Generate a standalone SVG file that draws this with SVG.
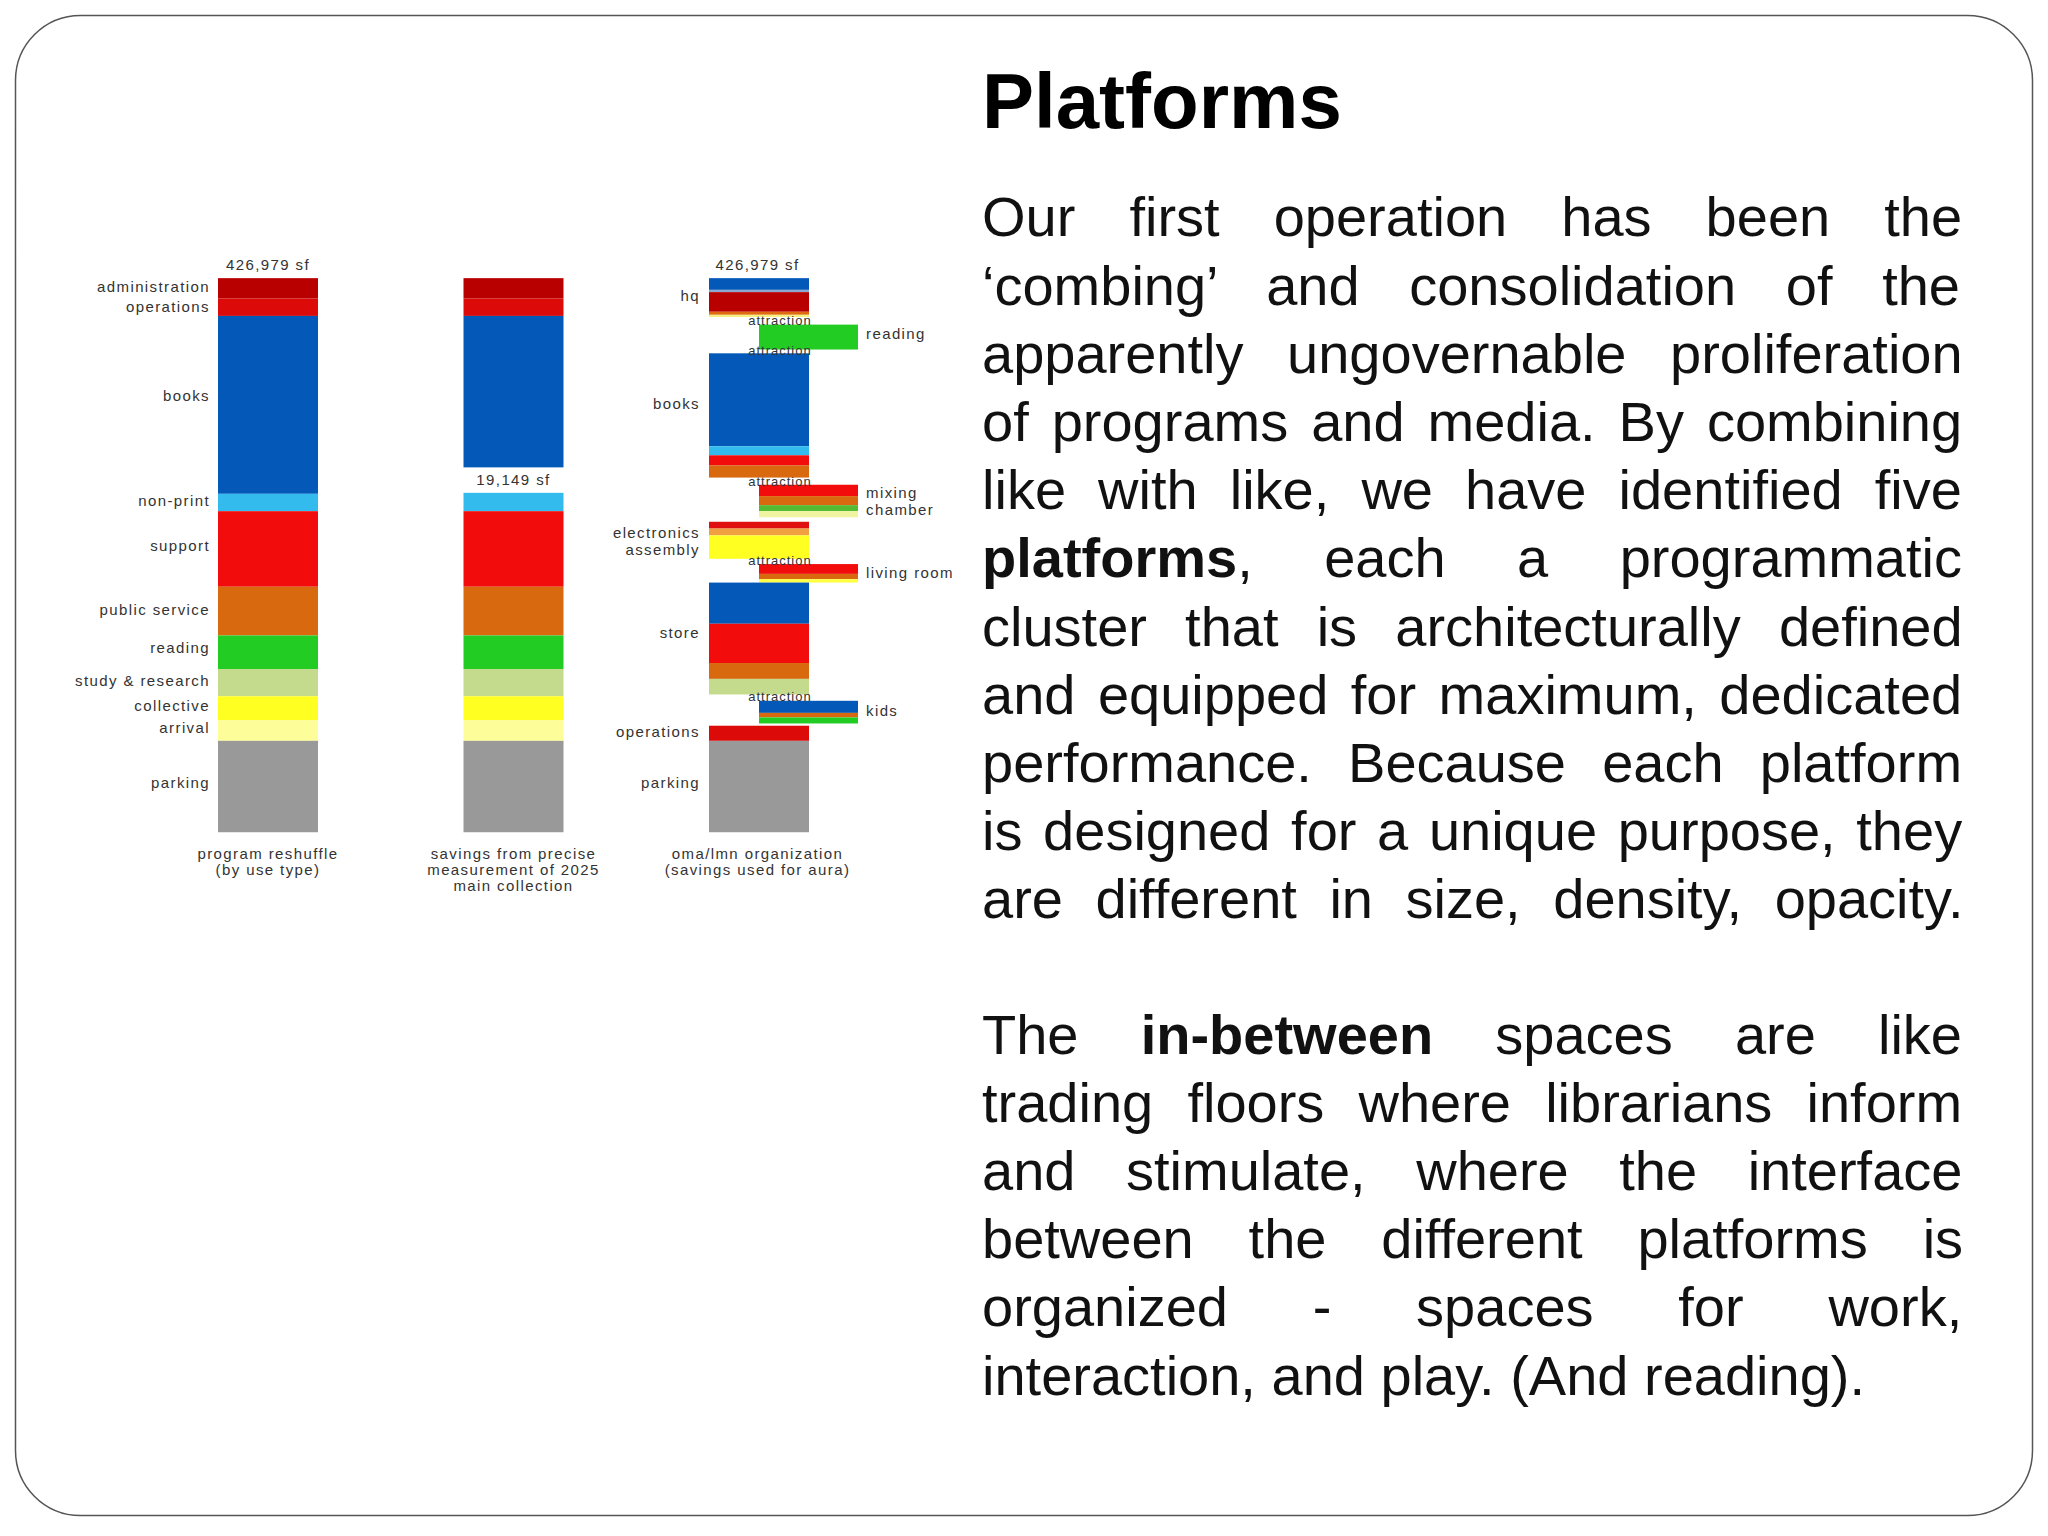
<svg xmlns="http://www.w3.org/2000/svg" width="2048" height="1536" viewBox="0 0 2048 1536">
<style>
.lb{font-family:"Liberation Sans",Arial,sans-serif;font-size:15px;letter-spacing:1.4px;fill:#333}
.r{text-anchor:end}
.m{text-anchor:middle}
.at{font-family:"Liberation Sans",Arial,sans-serif;font-size:13px;letter-spacing:1px;fill:#333;text-anchor:middle}
.body{font-family:"Liberation Sans",Arial,sans-serif;font-size:56px;fill:#111}
.b{font-weight:bold}
</style>
<rect width="2048" height="1536" fill="#fff"/>
<rect x="15.5" y="15.5" width="2017" height="1500" rx="65" fill="#fff" stroke="#555" stroke-width="1.5"/>
<g id="chart1">
<g transform="translate(0,240) scale(1,0.7554) translate(0,-240)">
<rect x="218" y="290.5" width="100" height="27" fill="#b80000"/>
<rect x="218" y="317.5" width="100" height="23" fill="#dd0a0a"/>
<rect x="218" y="340.5" width="100" height="235.5" fill="#0459b8"/>
<rect x="218" y="576" width="100" height="23" fill="#33bbee"/>
<rect x="218" y="599" width="100" height="100" fill="#f20c0c"/>
<rect x="218" y="699" width="100" height="64.5" fill="#d9690f"/>
<rect x="218" y="763.5" width="100" height="44.5" fill="#22cc22"/>
<rect x="218" y="808" width="100" height="36" fill="#c4da8c"/>
<rect x="218" y="844" width="100" height="32" fill="#ffff22"/>
<rect x="218" y="876" width="100" height="27" fill="#fdfd9a"/>
<rect x="218" y="903" width="100" height="121" fill="#999"/>
</g>
<text class="lb m" x="268" y="269.5">426,979 sf</text>
<text class="lb r" x="210" y="292">administration</text>
<text class="lb r" x="210" y="312">operations</text>
<text class="lb r" x="210" y="401">books</text>
<text class="lb r" x="210" y="506">non-print</text>
<text class="lb r" x="210" y="551">support</text>
<text class="lb r" x="210" y="615">public service</text>
<text class="lb r" x="210" y="653">reading</text>
<text class="lb r" x="210" y="686">study &amp; research</text>
<text class="lb r" x="210" y="711">collective</text>
<text class="lb r" x="210" y="732.5">arrival</text>
<text class="lb r" x="210" y="788">parking</text>
<text class="lb m" x="268" y="859">program reshuffle</text>
<text class="lb m" x="268" y="875">(by use type)</text>
</g>
<g id="chart2">
<g transform="translate(0,240) scale(1,0.7554) translate(0,-240)">
<rect x="463.5" y="290.5" width="100" height="27" fill="#b80000"/>
<rect x="463.5" y="317.5" width="100" height="23" fill="#dd0a0a"/>
<rect x="463.5" y="340.5" width="100" height="200.5" fill="#0459b8"/>
<rect x="463.5" y="574.7" width="100" height="24.3" fill="#33bbee"/>
<rect x="463.5" y="599" width="100" height="100" fill="#f20c0c"/>
<rect x="463.5" y="699" width="100" height="64.5" fill="#d9690f"/>
<rect x="463.5" y="763.5" width="100" height="44.5" fill="#22cc22"/>
<rect x="463.5" y="808" width="100" height="36" fill="#c4da8c"/>
<rect x="463.5" y="844" width="100" height="32" fill="#ffff22"/>
<rect x="463.5" y="876" width="100" height="27" fill="#fdfd9a"/>
<rect x="463.5" y="903" width="100" height="121" fill="#999"/>
</g>
<text class="lb m" x="513.5" y="484.5">19,149 sf</text>
<text class="lb m" x="513.5" y="859">savings from precise</text>
<text class="lb m" x="513.5" y="875">measurement of 2025</text>
<text class="lb m" x="513.5" y="891">main collection</text>
</g>
<g id="chart3">
<g transform="translate(0,240) scale(1,0.7554) translate(0,-240)">
<rect x="709" y="290.5" width="100" height="15.5" fill="#0459b8"/>
<rect x="709" y="306" width="100" height="3" fill="#8aa8d0"/>
<rect x="709" y="309" width="100" height="26" fill="#b80000"/>
<rect x="709" y="335" width="100" height="4" fill="#e06a10"/>
<rect x="709" y="339" width="100" height="3" fill="#f6f080"/>
<rect x="759" y="352" width="99" height="33" fill="#22cc22"/>
<rect x="709" y="390" width="100" height="123" fill="#0459b8"/>
<rect x="709" y="513" width="100" height="12" fill="#33bbee"/>
<rect x="709" y="525" width="100" height="13.5" fill="#f20c0c"/>
<rect x="709" y="538.5" width="100" height="16" fill="#d9690f"/>
<rect x="759" y="564" width="99" height="15" fill="#f20c0c"/>
<rect x="759" y="579" width="99" height="12" fill="#d9690f"/>
<rect x="759" y="591" width="99" height="8" fill="#55bb33"/>
<rect x="759" y="599" width="99" height="8" fill="#f0f4a0"/>
<rect x="709" y="613" width="100" height="9" fill="#e01010"/>
<rect x="709" y="622" width="100" height="9" fill="#f0a040"/>
<rect x="709" y="631" width="100" height="31" fill="#ffff22"/>
<rect x="759" y="669" width="99" height="13" fill="#f20c0c"/>
<rect x="759" y="682" width="99" height="7" fill="#d9690f"/>
<rect x="759" y="689" width="99" height="4.5" fill="#ffff44"/>
<rect x="709" y="693.5" width="100" height="54.5" fill="#0459b8"/>
<rect x="709" y="748" width="100" height="52" fill="#f20c0c"/>
<rect x="709" y="800" width="100" height="21" fill="#d9690f"/>
<rect x="709" y="821" width="100" height="20.6" fill="#c4da8c"/>
<rect x="759" y="850" width="99" height="16" fill="#0459b8"/>
<rect x="759" y="866" width="99" height="6" fill="#d9690f"/>
<rect x="759" y="872" width="99" height="8" fill="#22cc22"/>
<rect x="709" y="883" width="100" height="20" fill="#dd0a0a"/>
<rect x="709" y="903" width="100" height="121" fill="#999"/>
</g>
<text class="lb m" x="757.5" y="269.5">426,979 sf</text>
<text class="at" x="780" y="325">attraction</text>
<text class="at" x="780" y="355">attraction</text>
<text class="at" x="780" y="486">attraction</text>
<text class="at" x="780" y="565">attraction</text>
<text class="at" x="780" y="701">attraction</text>
<text class="lb r" x="700" y="300.5">hq</text>
<text class="lb" x="866" y="339">reading</text>
<text class="lb r" x="700" y="408.5">books</text>
<text class="lb" x="866" y="498">mixing</text>
<text class="lb" x="866" y="515">chamber</text>
<text class="lb r" x="700" y="537.5">electronics</text>
<text class="lb r" x="700" y="555">assembly</text>
<text class="lb" x="866" y="578">living room</text>
<text class="lb r" x="700" y="638">store</text>
<text class="lb" x="866" y="716">kids</text>
<text class="lb r" x="700" y="737">operations</text>
<text class="lb r" x="700" y="788">parking</text>
<text class="lb m" x="757.5" y="859">oma/lmn organization</text>
<text class="lb m" x="757.5" y="875">(savings used for aura)</text>
</g>
<g id="title"><text x="982" y="128" font-family="Liberation Sans, Arial, sans-serif" font-size="78" font-weight="bold" fill="#000">Platforms</text></g>
<g id="para1">
<text class="body" x="982" y="236" word-spacing="38.5">Our first operation has been the</text>
<text class="body" x="982" y="305" word-spacing="34.1">‘combing’ and consolidation of the</text>
<text class="body" x="982" y="373" word-spacing="28">apparently ungovernable proliferation</text>
<text class="body" x="982" y="441" word-spacing="7.4">of programs and media. By combining</text>
<text class="body" x="982" y="509" word-spacing="16.5">like with like, we have identified five</text>
<text class="body" x="982" y="577" word-spacing="55.9"><tspan class="b">platforms</tspan>, each a programmatic</text>
<text class="body" x="982" y="646" word-spacing="22.6">cluster that is architecturally defined</text>
<text class="body" x="982" y="714" word-spacing="6.9">and equipped for maximum, dedicated</text>
<text class="body" x="982" y="782" word-spacing="20.6">performance. Because each platform</text>
<text class="body" x="982" y="850" word-spacing="5.1">is designed for a unique purpose, they</text>
<text class="body" x="982" y="918" word-spacing="17">are different in size, density, opacity.</text>
</g>
<g id="para2">
<text class="body" x="982" y="1054" word-spacing="46.6">The <tspan class="b">in-between</tspan> spaces are like</text>
<text class="body" x="982" y="1122" word-spacing="18.6">trading floors where librarians inform</text>
<text class="body" x="982" y="1190" word-spacing="35">and stimulate, where the interface</text>
<text class="body" x="982" y="1258" word-spacing="39.3">between the different platforms is</text>
<text class="body" x="982" y="1326" word-spacing="69.2">organized - spaces for work,</text>
<text class="body" x="982" y="1395">interaction, and play. (And reading).</text>
</g>
</svg>
